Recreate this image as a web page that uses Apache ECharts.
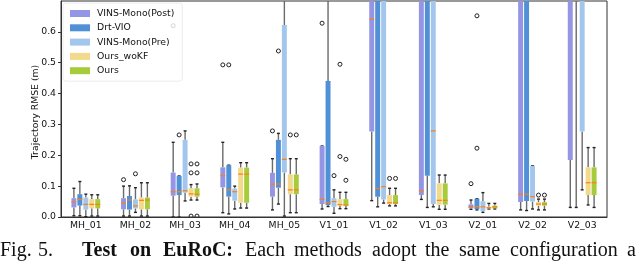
<!DOCTYPE html>
<html>
<head>
<meta charset="utf-8">
<script src="https://cdn.jsdelivr.net/npm/echarts@6/dist/echarts.min.js"></script>
<style>
html,body{margin:0;padding:0;background:#fff;}
#chart{width:640px;height:263px;}
</style>
</head>
<body>
<div id="chart"></div>
<script>
// ---- Data ----
const categories = ['MH_01','MH_02','MH_03','MH_04','MH_05','V1_01','V1_02','V1_03','V2_01','V2_02','V2_03'];
const methodNames = ['VINS-Mono(Post)','Drt-VIO','VINS-Mono(Pre)','Ours_woKF','Ours'];
const methodColors = ['#9595e6','#5090d6','#a3c7ec','#f3d98c','#a8cb3c'];

// each entry: [whiskerLow, Q1, median, Q3, whiskerHigh]
const vinsPost = [
  [0.004,0.031,0.049,0.061,0.093],
  [0.003,0.025,0.044,0.061,0.100],
  [0.000,0.069,0.082,0.144,0.242],
  [0.014,0.096,0.134,0.161,0.242],
  [0.023,0.066,0.106,0.143,0.189],
  [0.026,0.042,0.057,0.230,0.230],
  [0.053,0.277,0.641,1.200,1.600],
  [0.057,0.071,0.085,1.100,1.500],
  [0.025,0.028,0.033,0.041,0.055],
  [0.023,0.049,0.074,1.000,1.400],
  [0.031,0.185,0.900,1.300,1.900]
];
const drtVio = [
  [0.004,0.037,0.057,0.074,0.115],
  [0.003,0.024,0.055,0.068,0.101],
  [0.000,0.071,0.082,0.133,0.133],
  [0.010,0.066,0.088,0.168,0.168],
  [0.042,0.095,0.107,0.250,0.271],
  [0.034,0.039,0.046,0.441,0.950],
  [0.033,0.066,0.093,0.900,1.300],
  [0.031,0.134,0.800,1.300,1.800],
  [0.023,0.025,0.033,0.059,0.059],
  [0.021,0.052,0.074,1.100,1.500],
  [0.031,0.800,1.100,1.500,2.000]
];
const vinsPre = [
  [0.001,0.024,0.041,0.063,0.074],
  [0.015,0.028,0.036,0.057,0.095],
  [0.052,0.079,0.085,0.250,0.279],
  [0.026,0.053,0.082,0.092,0.100],
  [0.003,0.144,0.187,0.622,0.950],
  [0.012,0.033,0.050,0.061,0.088],
  [0.045,0.057,0.098,0.850,1.200],
  [0.033,0.042,0.279,1.000,1.500],
  [0.015,0.019,0.033,0.051,0.079],
  [0.026,0.050,0.066,0.166,0.166],
  [0.088,0.277,0.900,1.200,1.600]
];
const oursWoKF = [
  [0.003,0.028,0.041,0.058,0.072],
  [0.003,0.025,0.054,0.063,0.111],
  [0.055,0.066,0.075,0.094,0.105],
  [0.029,0.046,0.139,0.160,0.176],
  [0.014,0.074,0.088,0.138,0.189],
  [0.027,0.037,0.040,0.058,0.080],
  [0.036,0.042,0.046,0.071,0.093],
  [0.025,0.040,0.054,0.109,0.136],
  [0.026,0.028,0.030,0.033,0.044],
  [0.023,0.037,0.042,0.048,0.058],
  [0.039,0.071,0.111,0.161,0.225]
];
const ours = [
  [0.003,0.028,0.041,0.058,0.072],
  [0.003,0.025,0.055,0.063,0.111],
  [0.055,0.066,0.074,0.093,0.107],
  [0.029,0.046,0.139,0.160,0.176],
  [0.014,0.074,0.088,0.138,0.189],
  [0.027,0.036,0.039,0.058,0.080],
  [0.036,0.042,0.046,0.071,0.093],
  [0.025,0.040,0.054,0.109,0.136],
  [0.026,0.028,0.033,0.037,0.044],
  [0.023,0.037,0.042,0.048,0.058],
  [0.031,0.071,0.111,0.161,0.225]
];
// outliers: [categoryIndex, value]
const outPost = [[1,0.121],[2,0.620],[3,0.493],[4,0.279],[5,0.628],[8,0.108]];
const outDrt  = [[2,0.266],[3,0.493],[4,0.538],[8,0.652],[8,0.223]];
const outPre  = [[1,0.140],[5,0.134]];
const outWoKF = [[2,0.172],[2,0.143],[2,0.003],[4,0.266],[5,0.495],[5,0.196],[6,0.125],[9,0.071]];
const outOurs = [[2,0.172],[2,0.143],[2,0.003],[4,0.266],[5,0.187],[5,0.119],[6,0.125],[9,0.071]];
const yTicks = [0,0.1,0.2,0.3,0.4,0.5,0.6];

// ---- Build ----
const boxData = [vinsPost, drtVio, vinsPre, oursWoKF, ours];
const outData = [outPost, outDrt, outPre, outWoKF, outOurs];
const OFFSET = 0.12, WIDTH = 0.1;

function boxSeries(k) {
  return {
    type: 'custom',
    name: methodNames[k],
    clip: true,
    z: 3,
    itemStyle: { color: methodColors[k] },
    encode: { x: 0, y: [1,2,3,4,5] },
    data: boxData[k].map((d, i) => [i].concat(d)),
    renderItem: function (params, api) {
      const cat = api.value(0);
      const band = api.size([1, 0])[0];
      const cx = api.coord([cat, 0])[0] + (k - 2) * band * OFFSET;
      const w = band * WIDTH;
      const yL = api.coord([cat, api.value(1)])[1];
      const y1 = api.coord([cat, api.value(2)])[1];
      const ym = api.coord([cat, api.value(3)])[1];
      const y3 = api.coord([cat, api.value(4)])[1];
      const yH = api.coord([cat, api.value(5)])[1];
      const wStyle = { stroke: '#6a6a6a', lineWidth: 1.4 };
      const cStyle = { stroke: '#222', lineWidth: 1.4 };
      return {
        type: 'group',
        children: [
          { type: 'line', shape: { x1: cx, y1: y3, x2: cx, y2: yH }, style: wStyle },
          { type: 'line', shape: { x1: cx, y1: y1, x2: cx, y2: yL }, style: wStyle },
          { type: 'line', shape: { x1: cx - w * 0.3, y1: yH, x2: cx + w * 0.3, y2: yH }, style: cStyle },
          { type: 'line', shape: { x1: cx - w * 0.3, y1: yL, x2: cx + w * 0.3, y2: yL }, style: cStyle },
          { type: 'rect', shape: { x: cx - w / 2, y: y3, width: w, height: y1 - y3 }, style: { fill: methodColors[k] } },
          { type: 'line', shape: { x1: cx - w / 2, y1: ym, x2: cx + w / 2, y2: ym }, style: { stroke: '#ff7f0e', lineWidth: 1.2 } }
        ]
      };
    }
  };
}
function outlierSeries(k) {
  return {
    type: 'custom',
    name: methodNames[k] + ' outliers',
    clip: true,
    z: 3,
    encode: { x: 0, y: 1 },
    data: outData[k],
    renderItem: function (params, api) {
      const cat = api.value(0);
      const band = api.size([1, 0])[0];
      const p = api.coord([cat, api.value(1)]);
      return {
        type: 'circle',
        shape: { cx: p[0] + (k - 2) * band * OFFSET, cy: p[1], r: 2 },
        style: { fill: 'none', stroke: '#222', lineWidth: 1 }
      };
    }
  };
}

const series = [];
for (let k = 0; k < 5; k++) series.push(boxSeries(k));
for (let k = 0; k < 5; k++) series.push(outlierSeries(k));

const serif = 'Liberation Serif';
function capText(str, x, bold) {
  return { type: 'text', x: x, y: 251, style: { text: str, font: (bold ? 'bold ' : '') + '20px "' + serif + '"', fill: '#111', align: 'left', verticalAlign: 'middle' } };
}

const chart = echarts.init(document.getElementById('chart'), null, { renderer: 'canvas' });
chart.setOption({
  animation: false,
  backgroundColor: '#fff',
  grid: { left: 61, right: 33, top: 1, bottom: 46, show: true, borderColor: '#333', borderWidth: 1, backgroundColor: 'transparent' },
  legend: {
    data: methodNames,
    orient: 'vertical',
    left: 63, top: 3,
    padding: [5, 8, 5, 7],
    icon: 'rect',
    itemWidth: 20, itemHeight: 7, itemGap: 3.3,
    backgroundColor: 'rgba(255,255,255,0.8)',
    borderColor: '#ececec', borderWidth: 1, borderRadius: 3,
    textStyle: { fontFamily: 'DejaVu Sans', fontSize: 9.3, color: '#111', lineHeight: 11, padding: [0, 0, 0, 2] }
  },
  xAxis: {
    type: 'category',
    data: categories,
    boundaryGap: true,
    axisLine: { lineStyle: { color: '#333', width: 1 } },
    axisTick: { alignWithLabel: true, length: 3, lineStyle: { color: '#333' } },
    axisLabel: { fontFamily: 'DejaVu Sans', fontSize: 9.3, color: '#111', margin: 4 },
    splitLine: { show: false }
  },
  yAxis: {
    type: 'value',
    min: 0, max: 0.7, interval: 0.1,
    axisLine: { show: true, lineStyle: { color: '#333', width: 1 } },
    axisTick: { show: true, length: 3, lineStyle: { color: '#333' } },
    axisLabel: { fontFamily: 'DejaVu Sans', fontSize: 9.3, color: '#111', margin: 5, showMaxLabel: false,
      formatter: function (v) { return yTicks.some(t => Math.abs(t - v) < 1e-6) ? v.toFixed(1) : ''; } },
    splitLine: { show: false }
  },
  graphic: [
    { type: 'text', x: 36, y: 112, rotation: Math.PI / 2, style: { text: 'Trajectory RMSE (m)', font: '9.3px "DejaVu Sans"', fill: '#111', align: 'center', verticalAlign: 'middle' } },
    capText('Fig.', 0, false),
    capText('5.', 38, false),
    capText('Test', 82, true),
    capText('on', 130, true),
    capText('EuRoC:', 163, true),
    capText('Each', 245, false),
    capText('methods', 294, false),
    capText('adopt', 372, false),
    capText('the', 425, false),
    capText('same', 459, false),
    capText('configuration', 510, false),
    capText('a', 627, false)
  ],
  series: series
});
</script>
</body>
</html>
